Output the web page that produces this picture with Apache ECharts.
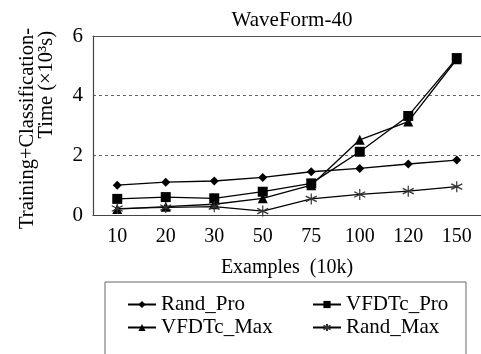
<!DOCTYPE html>
<html><head><meta charset="utf-8">
<script src="https://cdn.jsdelivr.net/npm/echarts@6/dist/echarts.min.js"></script>
<style>html,body{margin:0;padding:0;background:#fff}#c{width:481px;height:354px}</style>
</head><body><div id="c"></div>
<script>
const categories = ['10','20','30','50','75','100','120','150'];
const randPro  = [1.00, 1.10, 1.14, 1.26, 1.45, 1.56, 1.71, 1.84];
const vfdtcPro = [0.54, 0.60, 0.56, 0.78, 1.06, 2.12, 3.32, 5.26];
const vfdtcMax = [0.20, 0.28, 0.36, 0.56, 1.00, 2.52, 3.13, 5.22];
const randMax  = [0.22, 0.25, 0.28, 0.13, 0.54, 0.69, 0.80, 0.95];
const yTicks = [0, 2, 4, 6];

const FONT = "'Liberation Serif','Times New Roman',serif";
const star = 'path://M0,-6L0,6M-5.2,-3L5.2,3M-5.2,3L5.2,-3';

function mk(name, data, symbol, size, extra) {
  return Object.assign({
    name, type: 'line', data, symbol, symbolSize: size,
    lineStyle: { color: '#000', width: 1.3 },
    itemStyle: { color: '#000' },
    emphasis: { disabled: true }
  }, extra || {});
}

const chart = echarts.init(document.getElementById('c'), null, { renderer: 'canvas' });
chart.setOption({
  animation: false,
  backgroundColor: '#fff',
  title: {
    text: 'WaveForm-40', left: 287, top: 5, textAlign: 'center',
    textStyle: { fontFamily: FONT, fontSize: 21, fontWeight: 'normal', color: '#000' }
  },
  grid: { left: 93, top: 36, width: 392, height: 179 },
  xAxis: [{
    type: 'category', data: categories, boundaryGap: true,
    axisLine: { lineStyle: { color: '#444', width: 1.2 } },
    axisTick: { inside: true, length: 6, lineStyle: { color: '#444' } },
    axisLabel: { fontFamily: FONT, fontSize: 20, color: '#000', margin: 12 },
    name: 'Examples  (10k)', nameLocation: 'middle', nameGap: 43,
    nameTextStyle: { fontFamily: FONT, fontSize: 20, color: '#000' }
  }, {
    type: 'category', data: categories, position: 'top',
    axisLine: { show: true, lineStyle: { color: '#555', width: 1.2 } },
    axisTick: { show: false }, axisLabel: { show: false }
  }],
  yAxis: {
    type: 'value', min: yTicks[0], max: yTicks[yTicks.length - 1], interval: 2,
    axisLine: { show: true, lineStyle: { color: '#444', width: 1.2 } },
    axisTick: { show: false },
    axisLabel: { fontFamily: FONT, fontSize: 21, color: '#000', margin: 10 },
    splitLine: { show: true, lineStyle: { color: '#666', type: [3, 3], width: 1 } }
  },
  legend: [{
    data: ['Rand_Pro', 'VFDTc_Max'], orient: 'vertical', left: 122, top: 289,
    itemWidth: 28, itemHeight: 9, itemGap: 2,
    textStyle: { fontFamily: FONT, fontSize: 21, color: '#000' }
  }, {
    data: ['VFDTc_Pro', 'Rand_Max'], orient: 'vertical', left: 307, top: 289,
    itemWidth: 28, itemHeight: 9, itemGap: 2,
    textStyle: { fontFamily: FONT, fontSize: 21, color: '#000' }
  }],
  graphic: [
    { type: 'rect', shape: { x: 105, y: 282, width: 361, height: 90 },
      style: { fill: 'none', stroke: '#666', lineWidth: 1 }, silent: true },
    { type: 'text', x: 28, y: 28, rotation: Math.PI / 2,
      style: { text: 'Training+Classification-', fontFamily: FONT, fontSize: 20.5,
               fill: '#000', align: 'right', verticalAlign: 'middle' } },
    { type: 'text', x: 47, y: 31, rotation: Math.PI / 2,
      style: { text: 'Time (×10³s)', fontFamily: FONT, fontSize: 20.5,
               fill: '#000', align: 'right', verticalAlign: 'middle' } }
  ],
  series: [
    mk('Rand_Pro', randPro, 'diamond', 9),
    mk('VFDTc_Pro', vfdtcPro, 'rect', 10),
    mk('VFDTc_Max', vfdtcMax, 'triangle', 10),
    mk('Rand_Max', randMax, star, 11, {
      itemStyle: { color: 'none', borderColor: '#333', borderWidth: 1.2 },
      lineStyle: { color: '#000', width: 1.1 }
    })
  ]
});
</script></body></html>
